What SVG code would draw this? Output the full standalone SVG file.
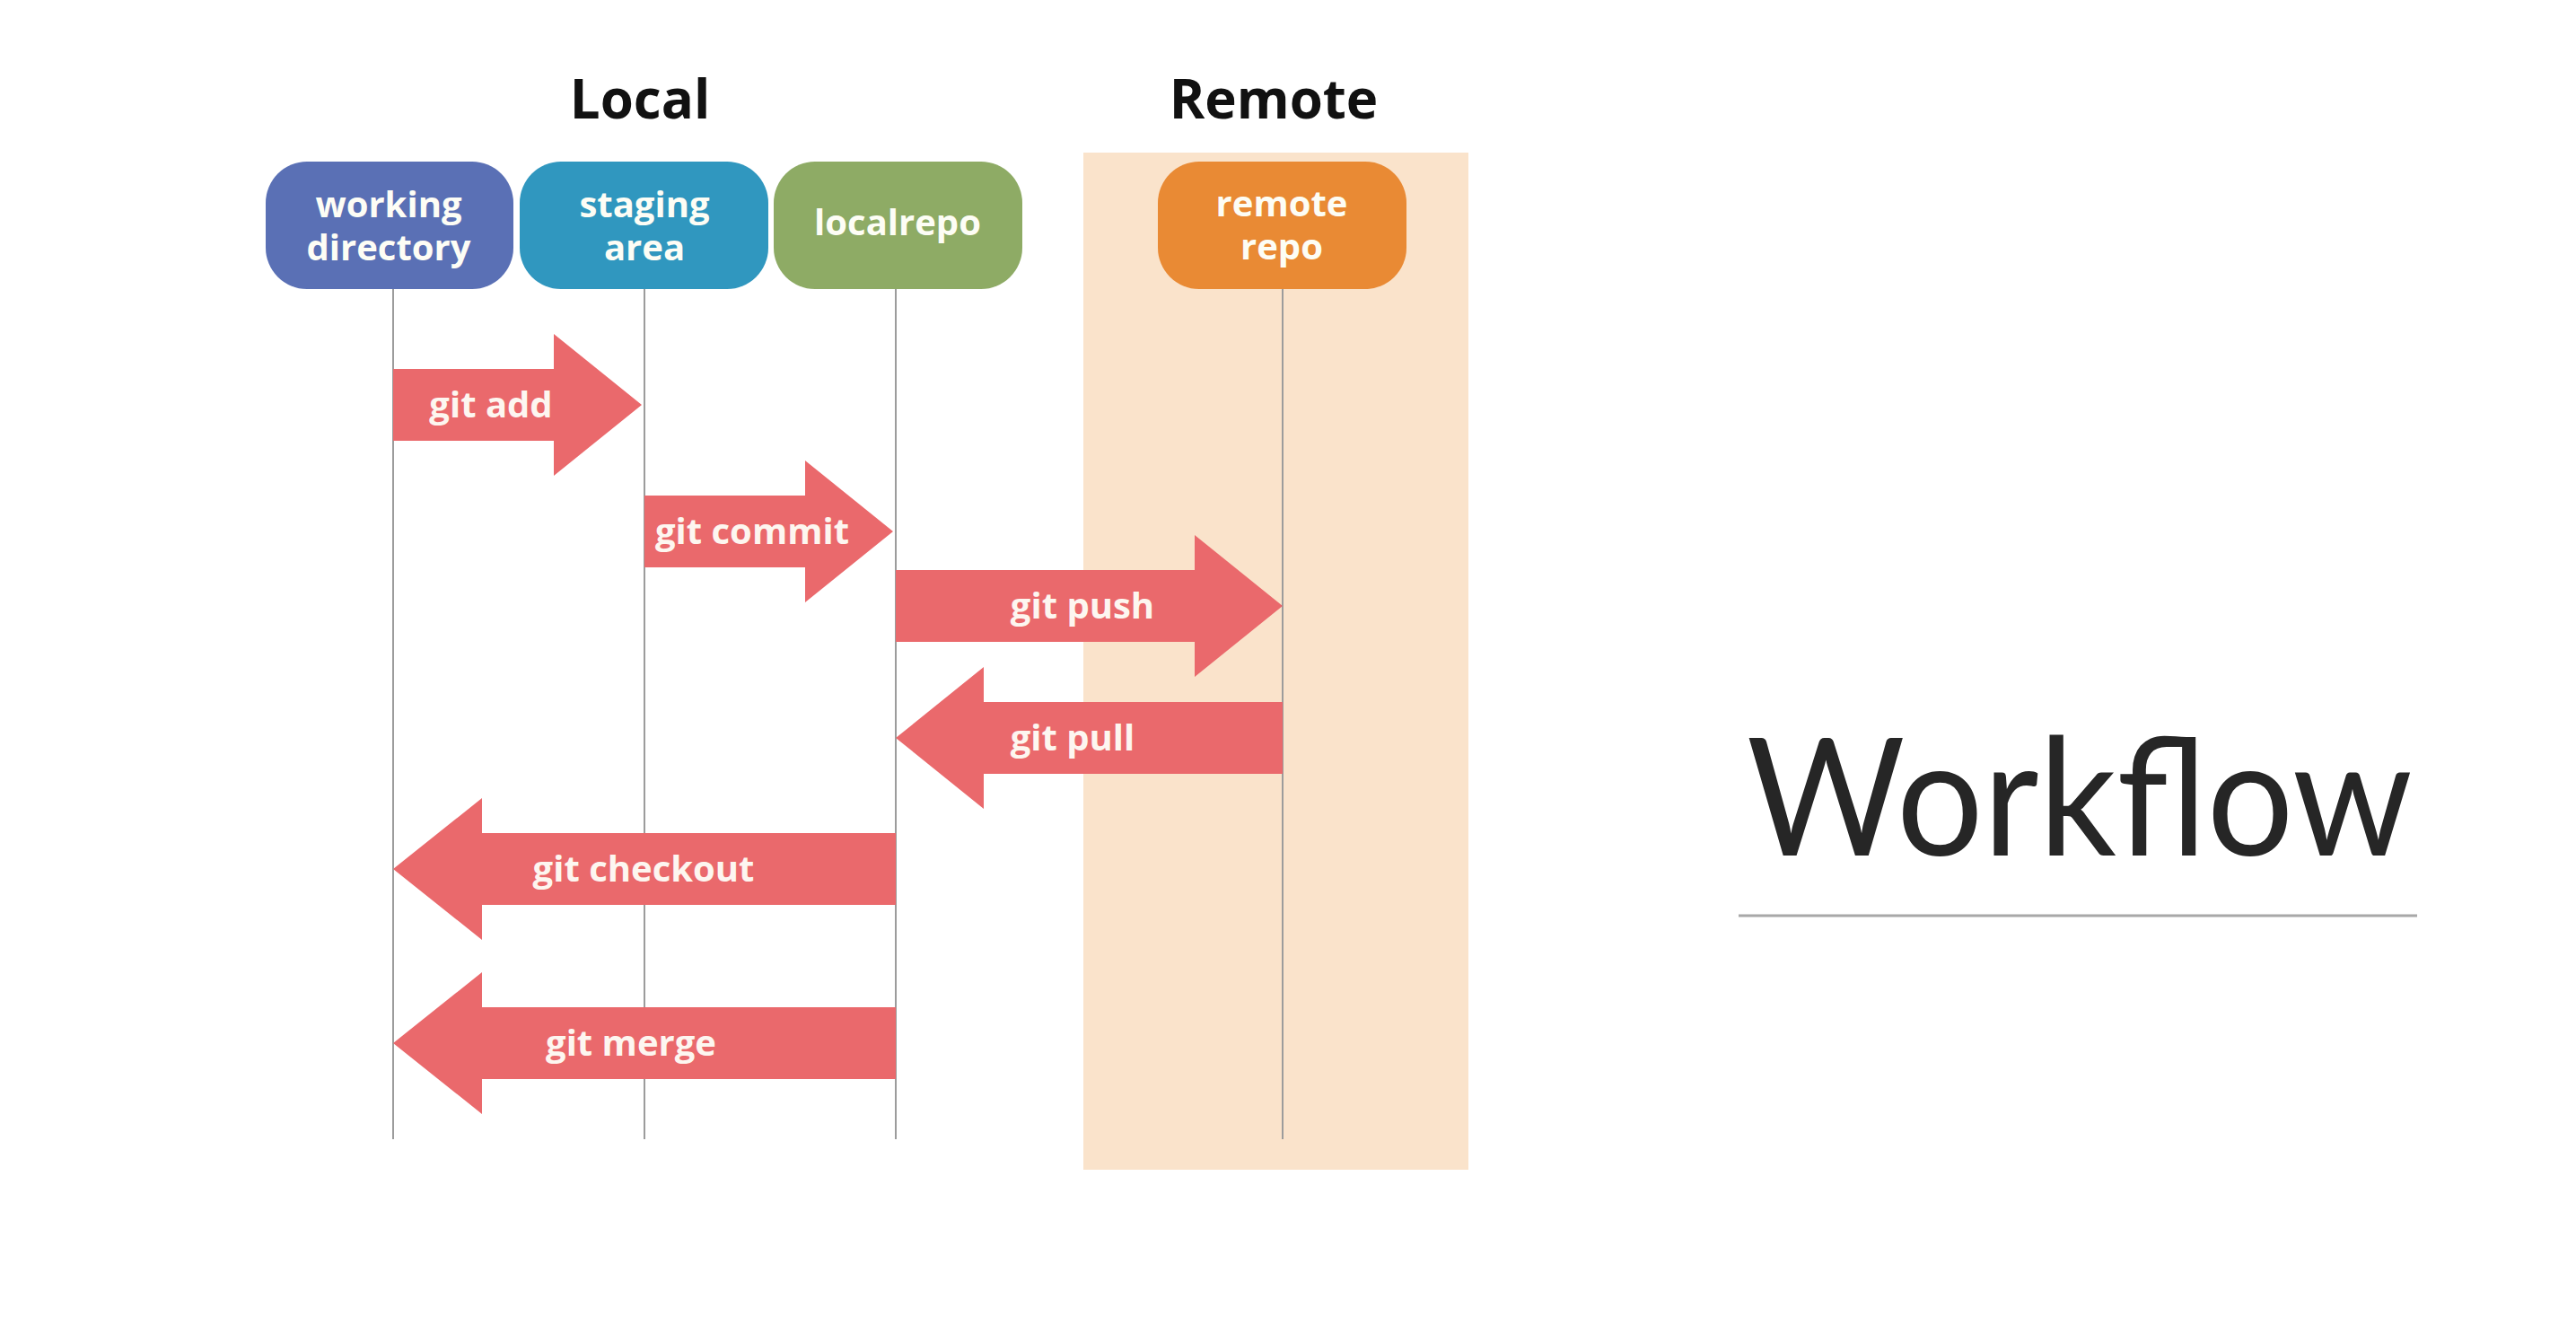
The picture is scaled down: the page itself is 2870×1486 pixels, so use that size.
<svg xmlns="http://www.w3.org/2000/svg" width="2870" height="1486" viewBox="0 0 2870 1486">
<style>
.hdr{font-family:"Open Sans","Liberation Sans",sans-serif;font-weight:700;font-size:60px;fill:#111;text-anchor:middle}
.nl{font-family:"Open Sans","Liberation Sans",sans-serif;font-weight:700;font-size:40px;fill:#fdfdf5;text-anchor:middle}
.al{font-family:"Open Sans","Liberation Sans",sans-serif;font-weight:700;font-size:40px;fill:#fdf6f0;text-anchor:middle}
.life{stroke:#9c9c9c;stroke-width:2;fill:none}
.arr{fill:#ea696c}
</style>
<rect id="remote-zone" x="1207" y="170" width="429" height="1133" fill="#fae3cb"/>
<text class="hdr" x="713" y="132">Local</text>
<text class="hdr" x="1419" y="132">Remote</text>
<g id="lifelines">
<line class="life" x1="438" y1="322" x2="438" y2="1269"/>
<line class="life" x1="718" y1="322" x2="718" y2="1269"/>
<line class="life" x1="998" y1="322" x2="998" y2="1269"/>
<line class="life" x1="1429" y1="322" x2="1429" y2="1269"/>
</g>
<g id="working-directory">
<rect x="296" y="180" width="276" height="142" rx="46" fill="#5a70b5"/>
<text class="nl" x="433" y="242">working<tspan x="433" y="290">directory</tspan></text>
</g>
<g id="staging-area">
<rect x="579" y="180" width="277" height="142" rx="46" fill="#3097bf"/>
<text class="nl" x="718" y="242">staging<tspan x="718" y="290">area</tspan></text>
</g>
<g id="localrepo">
<rect x="862" y="180" width="277" height="142" rx="46" fill="#8eab65"/>
<text class="nl" x="1000" y="262">localrepo</text>
</g>
<g id="remote-repo">
<rect x="1290" y="180" width="277" height="142" rx="46" fill="#e98a34"/>
<text class="nl" x="1428" y="241">remote<tspan x="1428" y="289">repo</tspan></text>
</g>
<g id="connectors">
<g id="git-add">
<polygon class="arr" points="438,411 617,411 617,372 715,451 617,530 617,491 438,491"/>
<text class="al" x="547" y="465">git add</text>
</g>
<g id="git-commit">
<polygon class="arr" points="718,552 897,552 897,513 995,592 897,671 897,632 718,632"/>
<text class="al" x="838" y="606">git commit</text>
</g>
<g id="git-push">
<polygon class="arr" points="998,635 1331,635 1331,596 1429,675 1331,754 1331,715 998,715"/>
<text class="al" x="1206" y="689">git push</text>
</g>
<g id="git-pull">
<polygon class="arr" points="1429,782 1096,782 1096,743 998,822 1096,901 1096,862 1429,862"/>
<text class="al" x="1195" y="836">git pull</text>
</g>
<g id="git-checkout">
<polygon class="arr" points="998,928 537,928 537,889 438,968 537,1047 537,1008 998,1008"/>
<text class="al" x="717" y="982">git checkout</text>
</g>
<g id="git-merge">
<polygon class="arr" points="998,1122 537,1122 537,1083 438,1162 537,1241 537,1202 998,1202"/>
<text class="al" x="703" y="1176">git merge</text>
</g>
</g>
<text x="1946" y="953" font-family="Lato,'Open Sans',sans-serif" font-weight="400" font-size="182" fill="#262626" textLength="742" lengthAdjust="spacingAndGlyphs">Workflow</text>
<line x1="1937" y1="1020" x2="2693" y2="1020" stroke="#a8a8a8" stroke-width="3"/>
</svg>
